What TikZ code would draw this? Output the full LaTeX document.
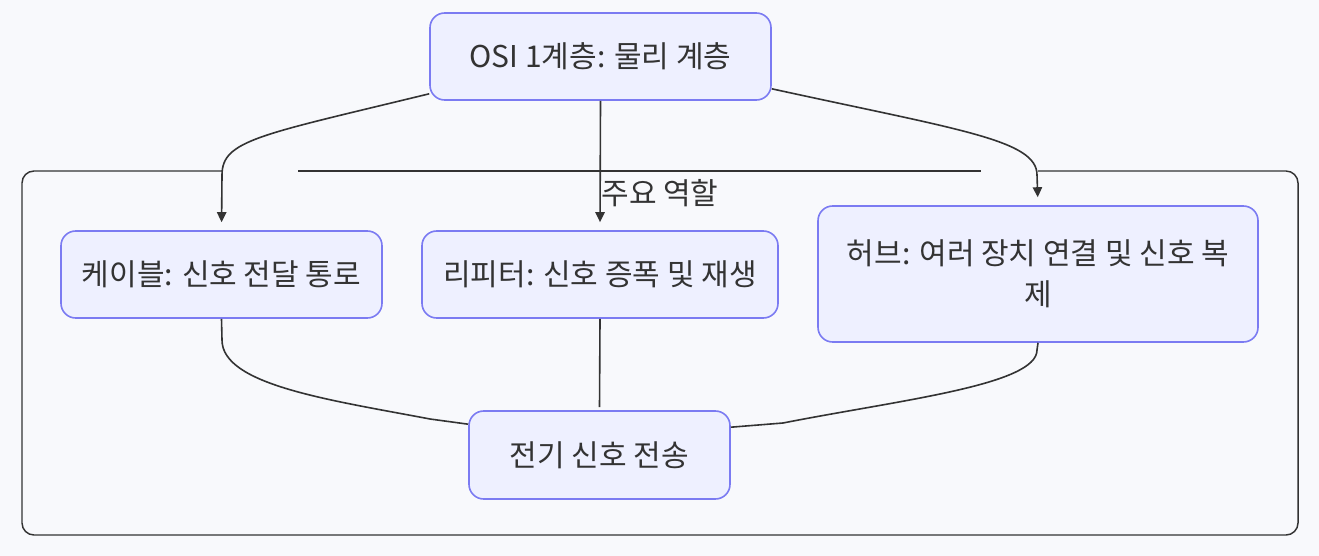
\documentclass[tikz,border=0pt]{standalone}
\usepackage{fontspec}
\setmainfont{Noto Sans CJK KR}
\usetikzlibrary{arrows.meta,calc}
\definecolor{bgc}{HTML}{F8F9FC}
\definecolor{nodefill}{HTML}{EEF0FF}
\definecolor{nodeline}{HTML}{7B7BF2}
\definecolor{txt}{HTML}{333333}
\tikzset{
  box/.style={draw=nodeline, fill=nodefill, line width=1.2pt, rounded corners=11pt,
    inner sep=0pt, align=center, text=txt, font=\fontsize{22.5pt}{31pt}\selectfont},
  conn/.style={draw=txt, line width=1.2pt},
  arr/.style={conn, -{Triangle[length=7.5pt,width=7pt]}, shorten >=6pt},
}
\begin{document}
\begin{tikzpicture}[x=0.75pt,y=-0.75pt]
\useasboundingbox (0,0) rectangle (1319,556);
\fill[bgc] (0,0) rectangle (1319,556);
% cluster
\draw[conn, line width=1.1pt] (298,171) -- (981,171);
\draw[conn, line width=1.1pt, rounded corners=9pt] (1038,171) -- (1298,171) -- (1298,535) -- (22,535) -- (22,171) -- (222,171);
\node[text=txt, font=\fontsize{22.5pt}{28pt}\selectfont] (lbl) at (660,193) {주요 역할};
% nodes
\node[box, minimum width=341*0.75pt, minimum height=87*0.75pt] (top) at (600.5,56.5) {OSI 1계층: 물리 계층};
\node[box, minimum width=321*0.75pt, minimum height=87*0.75pt] (cab) at (221.5,274.5) {케이블: 신호 전달 통로};
\node[box, minimum width=356*0.75pt, minimum height=87*0.75pt] (rep) at (600,274.5) {리피터: 신호 증폭 및 재생};
\node[box, minimum width=440*0.75pt, minimum height=136*0.75pt] (hub) at (1038,274) {허브: 여러 장치 연결 및 신호 복\\제};
\node[box, minimum width=261*0.75pt, minimum height=88*0.75pt] (bot) at (599.5,455) {전기 신호 전송};
% arrows
\draw[arr] ($(top.south west)+(0,-7)$) .. controls (260,135) and (222,140) .. (222,175) -- (cab.north);
\draw[arr] (top.south) -- (rep.north);
\draw[arr] ($(top.south east)+(0,-12)$) .. controls (960,130) and (1037,140) .. (1037,175) -- (hub.north);
% lines to bottom
\draw[conn] (cab.south) -- (222,340) .. controls (222,385) and (330,400) .. (430,419) -- ($(bot.north west)+(0,14)$);
\draw[conn] (rep.south) -- ($(bot.north)+(0,-3)$);
\draw[conn] (hub.south) -- (1037,350) .. controls (1037,385) and (900,400) .. (783,423) -- ($(bot.north east)+(0,17)$);
\end{tikzpicture}
\end{document}
